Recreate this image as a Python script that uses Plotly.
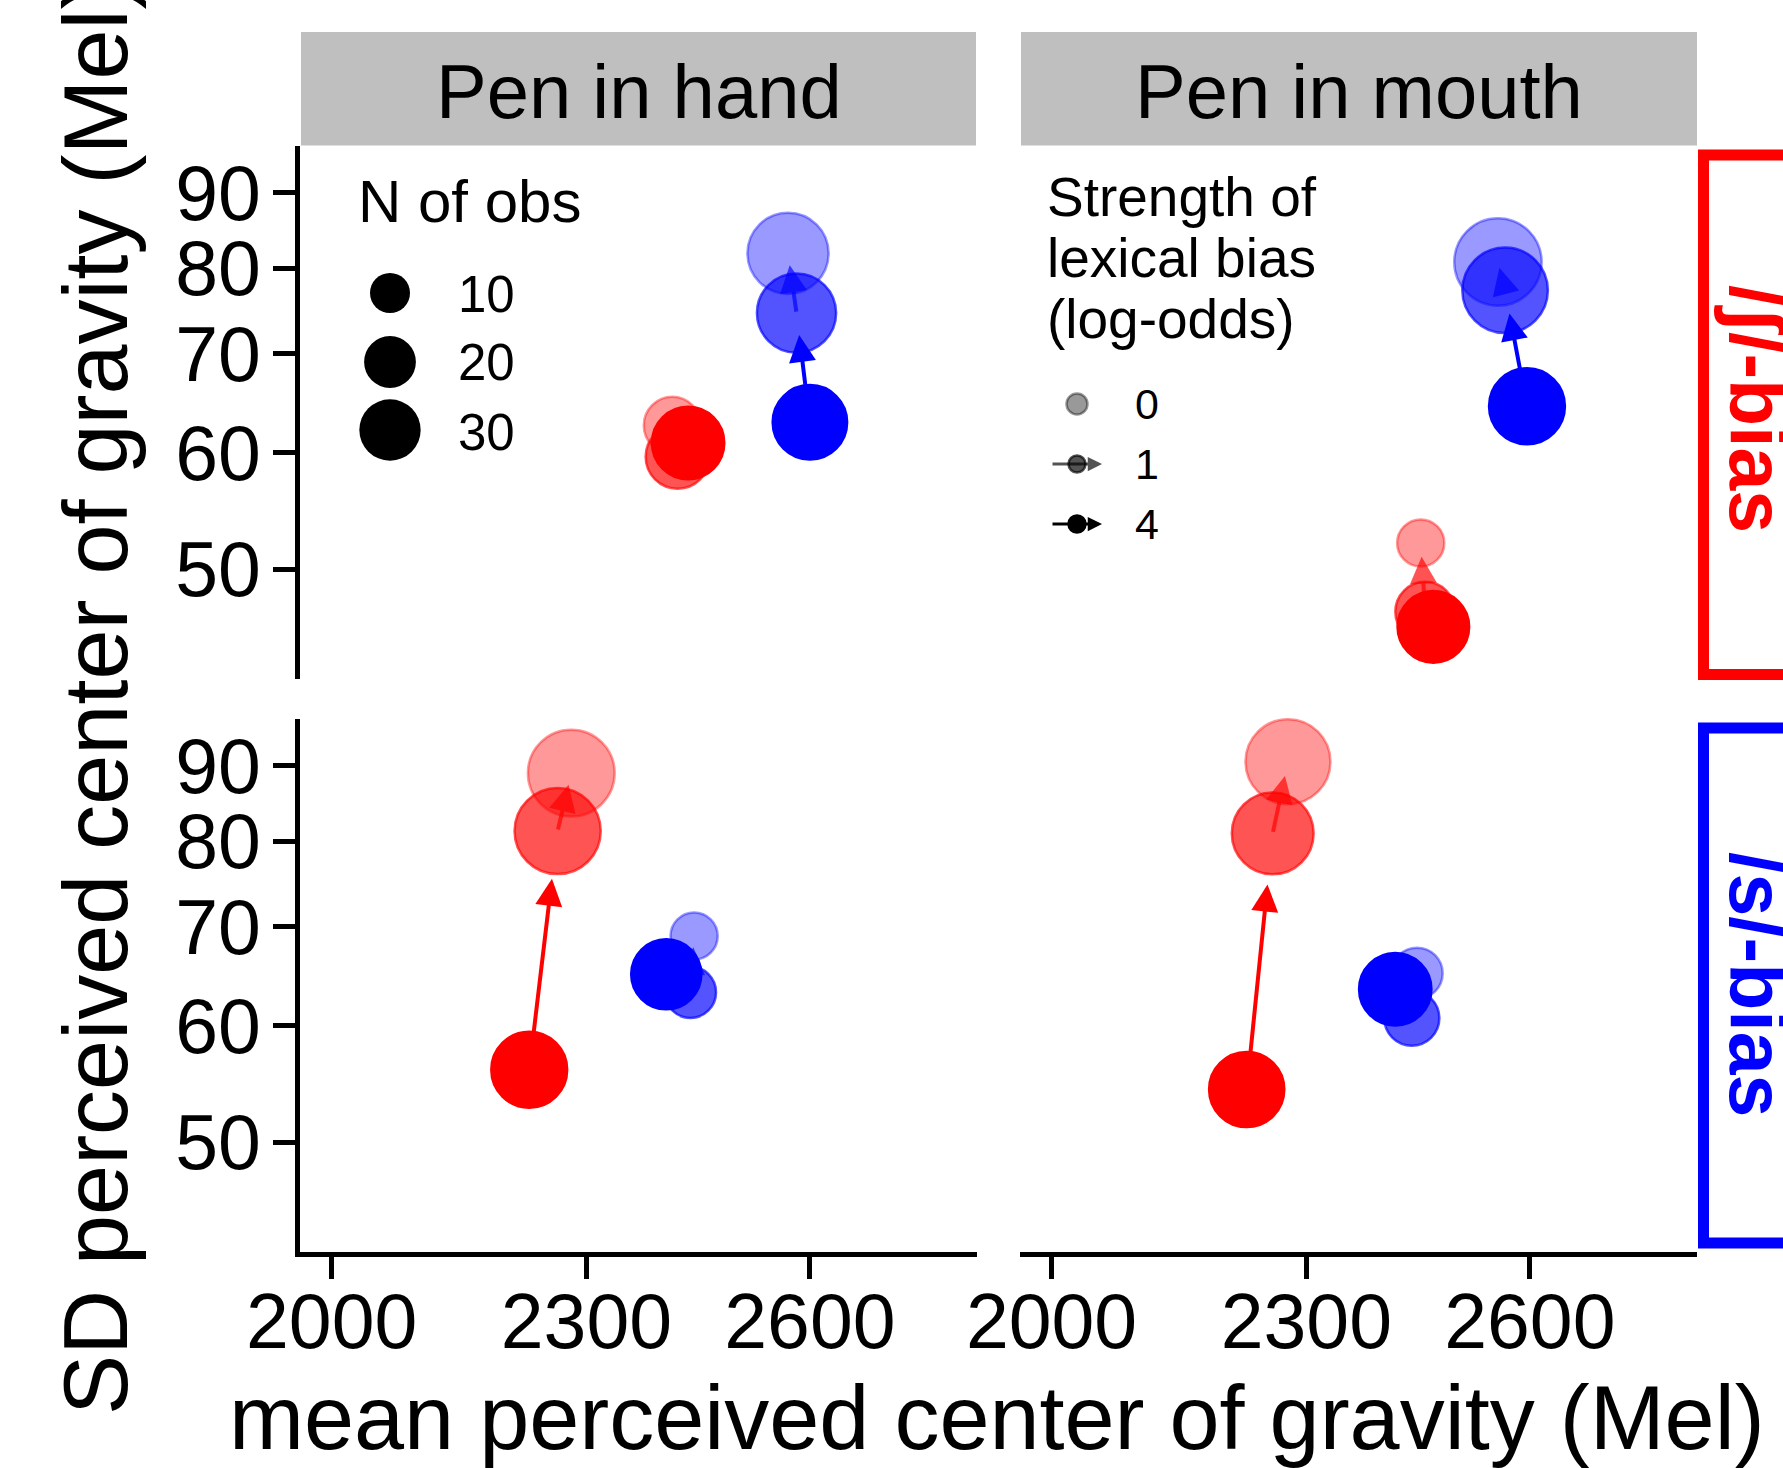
import math
import plotly.graph_objects as go

W, H = 1783, 1468
FONT = "Liberation Sans"

# ---------------- data ----------------
facet_cols = ["Pen in hand", "Pen in mouth"]
facet_rows = ["/ʃ/-bias", "/s/-bias"]
row_label_colors = ["#FF0000", "#0000FF"]
strength_levels = [0, 1, 4]            # lexical bias (log-odds); order of points in each series
strength_labels = ["0", "1", "4"]
n_breaks = [10, 20, 30]                # N of obs legend breaks
x_ticks = [2000, 2300, 2600]
y_ticks = [50, 60, 70, 80, 90]
x_limits = [1965.6, 2849.6]
y_limits = [42.14, 96.92]

# Pen in hand, /ʃ/-bias
hand_sh_red_x = [2411, 2418, 2432]
hand_sh_red_y = [62.6, 59.6, 60.9]
hand_sh_red_n = [28, 36, 47]
hand_sh_blue_x = [2569, 2581, 2600]
hand_sh_blue_y = [81.9, 74.6, 62.9]
hand_sh_blue_n = [60, 57, 50]
# Pen in mouth, /ʃ/-bias
mouth_sh_red_x = [2449, 2455, 2466]
mouth_sh_red_y = [52.1, 46.8, 45.7]
mouth_sh_red_n = [18, 31, 46]
mouth_sh_blue_x = [2555, 2565, 2596]
mouth_sh_blue_y = [80.8, 77.3, 64.5]
mouth_sh_blue_n = [70, 67, 52]
# Pen in hand, /s/-bias
hand_s_red_x = [2281, 2264, 2229]
hand_s_red_y = [89.0, 81.3, 56.0]
hand_s_red_n = [69, 68, 52]
hand_s_blue_x = [2440, 2435, 2403]
hand_s_blue_y = [69.0, 63.2, 65.0]
hand_s_blue_n = [18, 22, 44]
# Pen in mouth, /s/-bias
mouth_s_red_x = [2277, 2258, 2226]
mouth_s_red_y = [90.6, 81.0, 54.3]
mouth_s_red_n = [66, 61, 51]
mouth_s_blue_x = [2444, 2437, 2415]
mouth_s_blue_y = [65.1, 60.7, 63.5]
mouth_s_blue_n = [22, 26, 47]

# ---------------- styles ----------------
RED = (255, 0, 0)
BLUE = (0, 0, 255)
BLACK = (0, 0, 0)
alpha_for_strength = {0: 0.4, 1: 0.67, 4: 1.0}


def rgba(c, a):
    return "rgba(%d,%d,%d,%.3f)" % (c[0], c[1], c[2], a)


def diam(n):
    return math.sqrt(520 + 108 * n)


def px(xp):
    return xp / W


def py(yp):
    return 1 - yp / H


L10 = math.log10
colL = [px(300), px(977)]
colR = [px(1019.9), px(1696.9)]
rowT = [py(678.8), py(145.5)]
rowB = [py(1251.8), py(718.5)]

panels = [
    ("x", "y", [(hand_sh_red_x, hand_sh_red_y, hand_sh_red_n, RED),
                (hand_sh_blue_x, hand_sh_blue_y, hand_sh_blue_n, BLUE)]),
    ("x2", "y2", [(mouth_sh_red_x, mouth_sh_red_y, mouth_sh_red_n, RED),
                  (mouth_sh_blue_x, mouth_sh_blue_y, mouth_sh_blue_n, BLUE)]),
    ("x3", "y3", [(hand_s_red_x, hand_s_red_y, hand_s_red_n, RED),
                  (hand_s_blue_x, hand_s_blue_y, hand_s_blue_n, BLUE)]),
    ("x4", "y4", [(mouth_s_red_x, mouth_s_red_y, mouth_s_red_n, RED),
                  (mouth_s_blue_x, mouth_s_blue_y, mouth_s_blue_n, BLUE)]),
]

fig = go.Figure()
annotations = []
shapes = []

for xa, ya, series in panels:
    for xs, ys, ns, col in series:
        alphas = [alpha_for_strength[s] for s in strength_levels]
        fig.add_trace(go.Scatter(
            x=xs, y=ys, xaxis=xa, yaxis=ya, mode="markers",
            marker=dict(size=[diam(n) - 2.5 for n in ns],
                        color=[rgba(col, a) for a in alphas],
                        opacity=1,
                        line=dict(color=[rgba(col, a) for a in alphas], width=2.5)),
            showlegend=False, hoverinfo="skip", cliponaxis=False))
        # arrows: strongest -> weaker, ending at 80 % of the way (log space)
        for k in range(len(xs) - 1, 0, -1):
            sx, sy = L10(xs[k]), L10(ys[k])
            ex, ey = L10(xs[k - 1]), L10(ys[k - 1])
            tx, ty = sx + 0.8 * (ex - sx), sy + 0.8 * (ey - sy)
            annotations.append(dict(
                x=tx, y=ty, ax=sx, ay=sy, xref=xa, yref=ya, axref=xa, ayref=ya,
                text="", showarrow=True, arrowhead=2, arrowsize=1.35, arrowwidth=4,
                arrowcolor=rgba(col, alpha_for_strength[strength_levels[k]]),
                standoff=0, startstandoff=0))


def circle(cx, cy, d, fill, line_col=None, lw=0):
    r = d / 2
    return dict(type="circle", xref="paper", yref="paper",
                x0=px(cx - r), x1=px(cx + r), y0=py(cy + r), y1=py(cy - r),
                fillcolor=fill, line=dict(color=line_col or fill, width=lw))


# ---------------- legend: N of obs ----------------
for n, yy in zip(n_breaks, [293, 362, 430]):
    shapes.append(circle(390, yy, diam(n), "black"))
annotations.append(dict(x=px(356), y=py(202), xref="paper", yref="paper", text="N of obs",
                        showarrow=False, xanchor="left", yanchor="middle",
                        font=dict(family=FONT, size=60, color="black")))
for n, yy in zip(n_breaks, [294, 363, 432]):
    annotations.append(dict(x=px(456), y=py(yy), xref="paper", yref="paper", text=str(n),
                            showarrow=False, xanchor="left", yanchor="middle",
                            font=dict(family=FONT, size=51, color="black")))

# ---------------- legend: strength of lexical bias ----------------
for i, (lvl, yy) in enumerate(zip(strength_levels, [404, 464, 524])):
    a = alpha_for_strength[lvl]
    if i > 0:
        annotations.append(dict(x=px(1102), y=py(yy), xref="paper", yref="paper",
                                ax=-51, ay=0, axref="pixel", ayref="pixel", text="",
                                showarrow=True, arrowhead=2, arrowsize=0.95, arrowwidth=3,
                                arrowcolor=rgba(BLACK, a), standoff=0, startstandoff=0))
    shapes.append(circle(1077, yy, 21 if i == 0 else 17, rgba(BLACK, a), rgba(BLACK, a), 2.5))
    annotations.append(dict(x=px(1133), y=py(yy), xref="paper", yref="paper",
                            text=strength_labels[i], showarrow=False, xanchor="left",
                            yanchor="middle", font=dict(family=FONT, size=43, color="black")))
for txt, yy in zip(["Strength of", "lexical bias", "(log-odds)"], [197.5, 258, 318.5]):
    annotations.append(dict(x=px(1045), y=py(yy), xref="paper", yref="paper", text=txt,
                            showarrow=False, xanchor="left", yanchor="middle",
                            font=dict(family=FONT, size=55, color="black")))

# ---------------- strips ----------------
for (x0, x1), label in zip([(301, 976), (1021, 1697)], facet_cols):
    shapes.append(dict(type="rect", xref="paper", yref="paper", x0=px(x0), x1=px(x1),
                       y0=py(145.5), y1=py(32), fillcolor="#BFBFBF", line=dict(width=0),
                       layer="below"))
    annotations.append(dict(x=px((x0 + x1) / 2), y=py(91.5), xref="paper", yref="paper",
                            text=label, showarrow=False, xanchor="center", yanchor="middle",
                            font=dict(family=FONT, size=76, color="black")))
for (y0, y1, yc), label, col in zip([(155, 674.5, 409), (728, 1243, 984)], facet_rows,
                                    row_label_colors):
    shapes.append(dict(type="rect", xref="paper", yref="paper", x0=px(1703.5), x1=px(1810),
                       y0=py(y1), y1=py(y0), fillcolor="rgba(0,0,0,0)",
                       line=dict(color=col, width=11)))
    annotations.append(dict(x=px(1757), y=py(yc), xref="paper", yref="paper",
                            text="<b>%s</b>" % label, textangle=90, showarrow=False,
                            xanchor="center", yanchor="middle",
                            font=dict(family=FONT, size=77, color=col)))

# ---------------- axis titles ----------------
annotations.append(dict(x=px(997.5), y=py(1418), xref="paper", yref="paper",
                        text="mean perceived center of gravity (Mel)", showarrow=False,
                        xanchor="center", yanchor="middle",
                        font=dict(family=FONT, size=90, color="black")))
annotations.append(dict(x=px(96), y=py(697), xref="paper", yref="paper",
                        text="SD perceived center of gravity (Mel)", textangle=-90,
                        showarrow=False, xanchor="center", yanchor="middle",
                        font=dict(family=FONT, size=90, color="black")))

# ---------------- axes ----------------
xr = [L10(x_limits[0]), L10(x_limits[1])]
yr = [L10(y_limits[0]), L10(y_limits[1])]
tickfont = dict(family=FONT, size=77, color="black")


def xaxis(dom, anchor, show):
    d = dict(domain=dom, anchor=anchor, type="log", range=xr, showgrid=False,
             zeroline=False, fixedrange=True, automargin=False)
    if show:
        d.update(showline=True, linecolor="black", linewidth=4.5, ticks="outside",
                 ticklen=22, tickwidth=4.5, tickcolor="black", tickmode="array",
                 tickvals=x_ticks, ticktext=[str(v) for v in x_ticks], tickfont=tickfont,
                 ticklabelstandoff=-23)
    else:
        d.update(showline=False, ticks="", showticklabels=False)
    return d


def yaxis(dom, anchor, show):
    d = dict(domain=dom, anchor=anchor, type="log", range=yr, showgrid=False,
             zeroline=False, fixedrange=True, automargin=False)
    if show:
        d.update(showline=True, linecolor="black", linewidth=4.5, ticks="outside",
                 ticklen=22, tickwidth=4.5, tickcolor="black", tickmode="array",
                 tickvals=y_ticks, ticktext=[str(v) for v in y_ticks], tickfont=tickfont,
                 ticklabelstandoff=-3)
    else:
        d.update(showline=False, ticks="", showticklabels=False)
    return d


fig.update_layout(
    template="none",
    width=W, height=H, autosize=False,
    margin=dict(l=0, r=0, t=0, b=0, pad=0, autoexpand=False),
    paper_bgcolor="white", plot_bgcolor="rgba(0,0,0,0)",
    showlegend=False,
    xaxis=xaxis(colL, "y", False),
    yaxis=yaxis(rowT, "x", True),
    xaxis2=xaxis(colR, "y2", False),
    yaxis2=yaxis(rowT, "x2", False),
    xaxis3=xaxis(colL, "y3", True),
    yaxis3=yaxis(rowB, "x3", True),
    xaxis4=xaxis(colR, "y4", True),
    yaxis4=yaxis(rowB, "x4", False),
    shapes=shapes,
    annotations=annotations,
    font=dict(family=FONT, color="black"),
)

fig.write_html("out.html", config={"displayModeBar": False})
